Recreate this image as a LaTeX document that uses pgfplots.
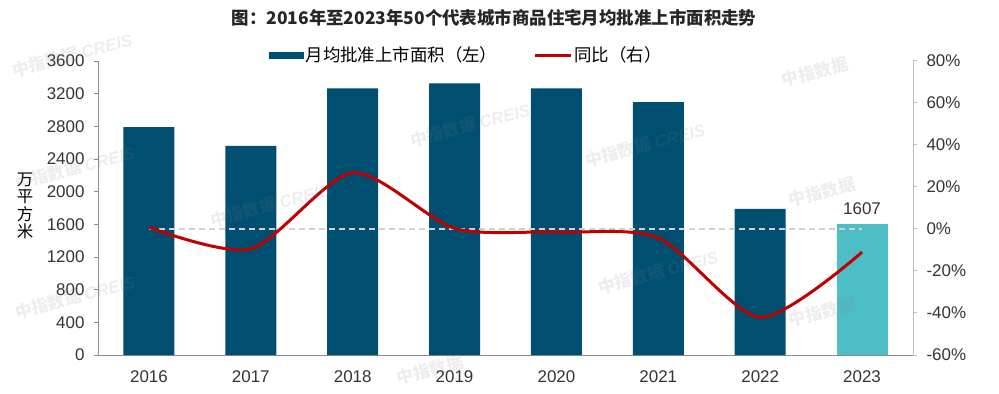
\documentclass[border=0pt]{standalone}
\usepackage{pgfplots}
\pgfplotsset{compat=1.18}
\usepackage{fontspec}
\setmainfont{Liberation Sans}
\newfontfamily\cjk{Noto Sans CJK SC}
\definecolor{barblue}{HTML}{004F71}
\definecolor{barteal}{HTML}{4DBDC6}
\definecolor{linered}{HTML}{C00000}
\definecolor{axgray}{HTML}{8C8C8C}
\definecolor{axlight}{HTML}{BFBFBF}
\begin{document}
\begin{tikzpicture}
\useasboundingbox (0,0) rectangle (999bp,394bp);
\begin{axis}[
  at={(98bp,39bp)}, anchor=south west,
  scale only axis, width=815bp, height=294bp,
  xmin=-0.5, xmax=7.5, ymin=0, ymax=3600,
  ytick={0,400,...,3600},
  xtick={0,...,7}, xticklabels={2016,2017,2018,2019,2020,2021,2022,2023},
  axis x line*=bottom, axis y line*=left,
  axis line style={-, line width=1bp},
  x axis line style={axgray},
  y axis line style={axgray},
  tick align=outside, major tick length=4bp,
  xtick style={draw=none},
  ytick style={axgray, line width=1bp},
  /pgf/number format/assume math mode=true,
  /pgf/number format/1000 sep={},
  scaled y ticks=false,
  ticklabel style={font=\fontsize{17}{17}\selectfont, text=black!80},
  yticklabel style={xshift=-6bp},
  xticklabel style={yshift=-8bp},
  ybar, bar width=51bp, bar shift=0pt,
  clip=false,
]
\addplot[fill=barblue, draw=none] coordinates {
  (0,2790) (1,2560) (2,3265) (3,3325) (4,3265) (5,3095) (6,1790)};
\addplot[fill=barteal, draw=none, nodes near coords,
  nodes near coords style={font=\fontsize{17}{17}\selectfont, text=black!80, yshift=6bp}]
  coordinates {(7,1607)};
\end{axis}
\begin{axis}[
  at={(98bp,39bp)}, anchor=south west,
  scale only axis, width=815bp, height=294bp,
  xmin=-0.5, xmax=7.5, ymin=-60, ymax=80,
  ytick={-60,-40,...,80},
  yticklabel={\pgfmathprintnumber{\tick}\%},
  axis x line=none, axis y line*=right,
  axis line style={-, axlight, line width=1bp},
  tick align=outside, major tick length=4bp,
  ytick style={axlight, line width=1bp},
  /pgf/number format/assume math mode=true,
  ticklabel style={font=\fontsize{17}{17}\selectfont, text=black!80},
  yticklabel style={xshift=6bp},
  legend style={at={(0.452,1.02)}, anchor=center, draw=none, fill=none,
    legend columns=2, font=\cjk\fontsize{17.5}{17.5}\selectfont,
    /tikz/every even column/.append style={column sep=34bp}},
  legend cell align=left,
  clip=false,
]
\addlegendimage{legend image code/.code={\fill[barblue] (0bp,-3bp) rectangle (34bp,3bp);}}
\addlegendentry{月均批准上市面积（左）}
\addplot[forget plot, color=black!18, line width=1.5bp, dash pattern=on 6bp off 4bp]
  coordinates {(0,0) (7,0)};
\addplot[linered, line width=3bp, smooth, tension=0.45,
  legend image code/.code={\draw[linered, line width=3bp] (0bp,0bp) -- (36bp,0bp);}]
  coordinates {(0,0.8) (1,-9.5) (2,26.8) (3,0.3) (4,-1.5) (5,-4.2) (6,-42) (7,-11)};
\addlegendentry{同比（右）}
\end{axis}
\node[font=\cjk\bfseries\fontsize{17.5}{17.5}\selectfont, text=black!85] at (494bp,376bp)
  {图：2016年至2023年50个代表城市商品住宅月均批准上市面积走势};
\node[font=\cjk\fontsize{16.5}{17.5}\selectfont, align=center, inner sep=0pt] at (25bp,188bp)
  {万\\平\\方\\米};
\begin{scope}[every node/.style={rotate=15, text=gray, opacity=0.14,
    font=\cjk\bfseries\fontsize{17}{17}\selectfont}]
  \node at (72bp,339bp) {中指数据 {\rmfamily\bfseries\itshape CREIS}};
  \node at (75bp,226bp) {中指数据 {\rmfamily\bfseries\itshape CREIS}};
  \node at (75bp,97bp) {中指数据 {\rmfamily\bfseries\itshape CREIS}};
  \node at (270bp,189bp) {中指数据 {\rmfamily\bfseries\itshape CREIS}};
  \node at (470bp,269bp) {中指数据 {\rmfamily\bfseries\itshape CREIS}};
  \node at (645bp,249bp) {中指数据 {\rmfamily\bfseries\itshape CREIS}};
  \node at (658bp,122bp) {中指数据 {\rmfamily\bfseries\itshape CREIS}};
  \node at (815bp,322bp) {中指数据};
  \node at (822bp,202bp) {中指数据};
  \node at (822bp,82bp) {中指数据};
  \node at (430bp,24bp) {中指数据};
\end{scope}
\end{tikzpicture}
\end{document}
